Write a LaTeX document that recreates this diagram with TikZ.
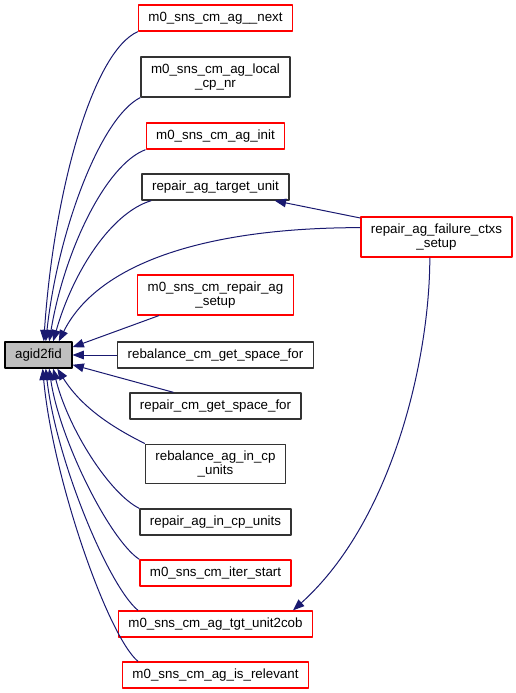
\documentclass[tikz,border=0pt]{standalone}
\usepackage{fontspec}
\setmainfont{Liberation Sans}
\usepackage{xcolor}
\usetikzlibrary{arrows.meta,positioning}
\definecolor{edgeblue}{HTML}{191970}
\tikzset{%
         func/.style = { draw=black!80, line width=1pt, fill=white, inner xsep=7.5pt, inner ysep=5pt,
                         minimum height=19.5pt, align=center, font=\fontsize{10}{10.5}\selectfont },
        undoc/.style = { func, draw=red },
         root/.style = { func, draw=black, fill=black!25 },
         call/.style = { edgeblue, line width=0.75pt, -{Triangle[length=8.5pt,width=6.5pt]} }
}

\begin{document}
\begin{tikzpicture}[x=0.75pt,y=-0.75pt,line join=round]
\useasboundingbox (0,0) rectangle (515,693);
% callee
\node[root] (agid2fid) at (38.5,355) {agid2fid};
% callers
\node[undoc] (agnext)    at (215.5,18)  {m0\_sns\_cm\_ag\_\_next};
\node[func]  (localcp)   at (215.5,77)  {m0\_sns\_cm\_ag\_local\\\_cp\_nr};
\node[undoc] (aginit)    at (215.5,136) {m0\_sns\_cm\_ag\_init};
\node[func]  (tgtunit)   at (215.5,187) {repair\_ag\_target\_unit};
\node[undoc] (failctxs)  at (436.5,237) {repair\_ag\_failure\_ctxs\\\_setup};
\node[undoc] (repsetup)  at (215.5,295) {m0\_sns\_cm\_repair\_ag\\\_setup};
\node[func]  (rebspace)  at (215.5,355) {rebalance\_cm\_get\_space\_for};
\node[func]  (repspace)  at (215.5,406) {repair\_cm\_get\_space\_for};
\node[func]  (rebcp)     at (215.5,464) {rebalance\_ag\_in\_cp\\\_units};
\node[func]  (repcp)     at (215.5,522) {repair\_ag\_in\_cp\_units};
\node[undoc] (iterstart) at (215.5,573) {m0\_sns\_cm\_iter\_start};
\node[undoc] (unitcob)   at (215.5,624) {m0\_sns\_cm\_ag\_tgt\_unit2cob};
\node[undoc] (relevant)  at (215.5,675) {m0\_sns\_cm\_ag\_is\_relevant};
% edges into agid2fid
\draw[call] (agnext.south west)   .. controls +(-45,20) and +(10,-150) .. (agid2fid.69);
\draw[call] (localcp.south west)  .. controls +(-40,20) and +(12,-110) .. (agid2fid.62);
\draw[call] (aginit.south west)   .. controls +(-40,15) and +(15,-90) .. (agid2fid.52);
\draw[call] (tgtunit.-168)        .. controls +(-40,12) and +(20,-70) .. (agid2fid.43);
\draw[call] (failctxs.173)        .. controls +(-150,0) and +(40,-80) .. (agid2fid.34);
\draw[call] (repsetup.-160) -- (agid2fid.13);
\draw[call] (rebspace.west) -- (agid2fid.east);
\draw[call] (repspace.162) -- (agid2fid.-16);
\draw[call] (rebcp.north west)    .. controls +(-30,-15) and +(25,40) .. (agid2fid.-36);
\draw[call] (repcp.north west)    .. controls +(-30,-15) and +(15,60) .. (agid2fid.-43);
\draw[call] (iterstart.north west) .. controls +(-30,-20) and +(10,70) .. (agid2fid.-52);
\draw[call] (unitcob.170)         .. controls +(-30,-25) and +(10,90) .. (agid2fid.-62);
\draw[call] (relevant.170)        .. controls +(-30,-25) and +(10,110) .. (agid2fid.-73);
% edges from repair_ag_failure_ctxs_setup
\draw[call] (failctxs.166) -- (tgtunit.-13);
\draw[call] (failctxs.-108)       .. controls +(0,100) and +(100,-90) .. (unitcob.10);
\end{tikzpicture}
\end{document}
